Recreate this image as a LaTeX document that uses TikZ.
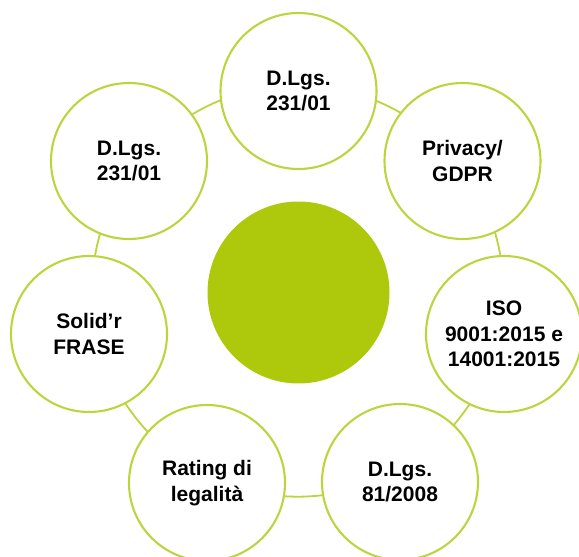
\documentclass[tikz,border=0pt]{standalone}
\usepackage{fontspec}
\setmainfont{Liberation Sans}
\definecolor{gfill}{HTML}{AEC90B}
\definecolor{gline}{HTML}{BCD43E}
\begin{document}
\begin{tikzpicture}[x=1pt,y=1pt,
  ring/.style={circle,draw=gline,line width=2.1pt,fill=white,minimum size=156pt,inner sep=0pt,
    align=center,font=\fontsize{21}{25.5}\selectfont\bfseries,text=black},
  link/.style={circle,draw=gline,line width=1.8pt,minimum size=411.4pt,inner sep=0pt}]
\useasboundingbox (0,0) rectangle (579,557);
\node[link] (cycle) at (297.7,266) {};
\node[circle,fill=gfill,minimum size=182pt,inner sep=0pt] (c) at (298.5,264.5) {};
\node[ring] (top) at (298.5,466) {D.Lgs.\\231/01};
\node[ring] (priv) at (462.5,396) {Privacy/\\GDPR};
\node[ring] (iso) at (504,223) {ISO\\9001:2015 e\\14001:2015};
\node[ring] (d81) at (400,75) {D.Lgs.\\81/2008};
\node[ring] (rat) at (207,74) {Rating di\\legalità};
\node[ring] (sol) at (89,223) {Solid’r\\FRASE};
\node[ring] (ul) at (129,396) {D.Lgs.\\231/01};
\end{tikzpicture}
\end{document}
